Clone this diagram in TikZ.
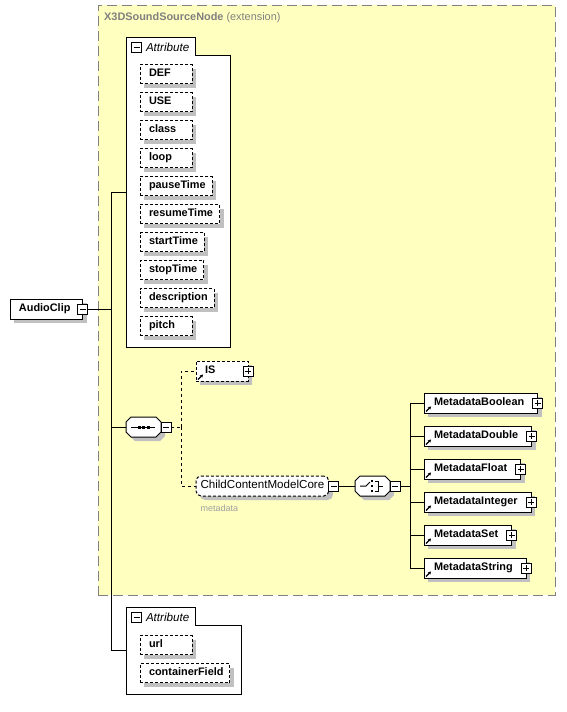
\documentclass[tikz,border=0pt]{standalone}
\usepackage{fontspec}
\setmainfont{Liberation Sans}
\usetikzlibrary{positioning, arrows.meta}

\definecolor{extfill}{RGB}{255,255,192}
\definecolor{extline}{RGB}{128,128,128}
\definecolor{shadegray}{RGB}{192,192,192}
\definecolor{notegray}{RGB}{160,160,160}

\pgfdeclarelayer{bg}
\pgfdeclarelayer{shade}
\pgfsetlayers{bg,shade,main}

\tikzstyle{elem}=[draw, fill=white, outer sep=0pt, minimum height=20pt, inner xsep=6.5pt, inner ysep=0pt, text height=8pt, text depth=2.5pt, font=\fontsize{10.9}{12}\selectfont\bfseries, anchor=west]
\tikzstyle{attr}=[elem, dash pattern=on 3pt off 2pt, minimum height=19pt, execute at begin node={\hspace*{2.5pt}}]
\tikzstyle{narrow}=[text width=39pt]
\tikzstyle{eref}=[elem, inner xsep=10pt, execute at end node={\hspace*{3.5pt}}]
\tikzstyle{sgn}=[draw, fill=white, outer sep=0pt, minimum size=10pt, inner sep=0pt]
\tikzstyle{colbox}=[sgn, path picture={\draw ([xshift=2pt]path picture bounding box.west) -- ([xshift=-2pt]path picture bounding box.east);}]
\tikzstyle{expbox}=[sgn, path picture={\draw ([xshift=2pt]path picture bounding box.west) -- ([xshift=-2pt]path picture bounding box.east); \draw ([yshift=2pt]path picture bounding box.south) -- ([yshift=-2pt]path picture bounding box.north);}]
\tikzstyle{octo}=[outer sep=0pt, minimum width=35pt, minimum height=20pt, inner sep=0pt]
\tikzstyle{grptab}=[font=\fontsize{11.6}{12}\selectfont\itshape, inner sep=0pt, anchor=west]
\tikzstyle{optlink}=[dash pattern=on 3pt off 3pt]
\tikzstyle{refarrow}=[line width=1.2pt, -{Stealth[length=3pt, width=3.5pt]}]

% octagon outline of a compositor node, offset by #2 for its shadow
\tikzset{octline/.style 2 args={insert path={([shift={(#2,-#2)}]#1.north west) ++(5,0) -- ++(25,0) -- ++(5,5) -- ++(0,10) -- ++(-5,5) -- ++(-25,0) -- ++(-5,-5) -- ++(0,-10) -- cycle}}}

\begin{document}
\begin{tikzpicture}[x=1pt, y=-1pt, line width=1pt, node distance=13pt]
    \useasboundingbox (0,0) rectangle (566,712);

    % attribute group inside the extension
    \node[inner sep=0pt, outer sep=0pt, minimum width=104pt, minimum height=310pt, anchor=north west] (grpA) at (126,37) {};
    \node[colbox] (grpAm) at (136.5,47) {};
    \node[grptab, right=4pt of grpAm] (grpAt) {Attribute};

    \node[attr, narrow] (DEF) at (140,74) {DEF};
    \node[attr, narrow, below=9pt of DEF.south west, anchor=north west] (USE) {USE};
    \node[attr, narrow, below=9pt of USE.south west, anchor=north west] (class) {class};
    \node[attr, narrow, below=9pt of class.south west, anchor=north west] (loop) {loop};
    \node[attr, below=9pt of loop.south west, anchor=north west] (pauseTime) {pauseTime};
    \node[attr, below=9pt of pauseTime.south west, anchor=north west] (resumeTime) {resumeTime};
    \node[attr, below=9pt of resumeTime.south west, anchor=north west] (startTime) {startTime};
    \node[attr, below=9pt of startTime.south west, anchor=north west] (stopTime) {stopTime};
    \node[attr, below=9pt of stopTime.south west, anchor=north west] (description) {description};
    \node[attr, narrow, below=9pt of description.south west, anchor=north west] (pitch) {pitch};

    % attribute group of AudioClip itself
    \node[inner sep=0pt, outer sep=0pt, minimum width=115pt, minimum height=87pt, anchor=north west] (grpB) at (126,607) {};
    \node[colbox] (grpBm) at (136.5,617) {};
    \node[grptab, right=4pt of grpBm] (grpBt) {Attribute};

    \node[attr, narrow] (url) at (140,645) {url};
    \node[attr, below=9pt of url.south west, anchor=north west] (containerField) {containerField};

    % root element
    \node[elem, inner xsep=9pt, execute at end node={\hspace*{3.5pt}}] (ac) at (10,309) {AudioClip};
    \node[colbox] (acm) at (ac.east) {};

    % sequence
    \node[octo] (seq) at (143.5,427) {};
    \draw[fill=white] [octline={seq}{0pt}];
    \node[colbox, right=0pt of seq] (seqm) {};

    \node[attr, narrow, minimum height=20pt] (IS) at (196,371) {IS};
    \node[expbox] (ISx) at (IS.east) {};

    \node[elem, dash pattern=on 3pt off 2pt, rounded corners=5pt, inner xsep=4.5pt, font=\fontsize{11.6}{12}\selectfont] (ccmc) at (196,486) {ChildContentModelCore};
    \node[colbox, right=0pt of ccmc] (ccmcm) {};
    \node[anchor=west, inner sep=0pt, text=notegray, font=\fontsize{9}{10}\selectfont] (ccmcnote) at (200,508) {metadata};

    % choice
    \node[octo] (cho) at (372.5,486) {};
    \draw[fill=white] [octline={cho}{0pt}];
    \node[colbox, right=0pt of cho] (chom) {};

    \node[eref] (mbool) at (424,403) {MetadataBoolean};
    \node[eref, below=of mbool.south west, anchor=north west] (mdbl) {MetadataDouble};
    \node[eref, below=of mdbl.south west, anchor=north west] (mflt) {MetadataFloat};
    \node[eref, below=of mflt.south west, anchor=north west] (mint) {MetadataInteger};
    \node[eref, below=of mint.south west, anchor=north west] (mset) {MetadataSet};
    \node[eref, below=of mset.south west, anchor=north west] (mstr) {MetadataString};
    \foreach \m in {mbool,mdbl,mflt,mint,mset,mstr}
        \node[expbox] (\m x) at (\m.east) {};

    % reference arrows
    \foreach \m in {IS,mbool,mdbl,mflt,mint,mset,mstr}
        \draw[refarrow] ([shift={(2pt,1.5pt)}]\m.south west) -- ++(5pt,5pt);

    % compositor icons
    \draw ([xshift=-12.5pt]seq.center) -- ([xshift=11.5pt]seq.center);
    \foreach \d in {-4.5,0,4.5}
        \fill ([xshift=\d pt]seq.center) +(-1.5pt,-1.5pt) rectangle +(1.5pt,1.5pt);
    \draw ([xshift=-12.5pt]cho.center) -- ++(6pt,0pt) -- ++(4pt,4pt);
    \foreach \d in {-5,0,5}
        \fill ([shift={(-0.5pt,\d pt)}]cho.center) +(-1.3pt,-1.3pt) rectangle +(1.3pt,1.3pt);
    \draw ([shift={(2.5pt,5pt)}]cho.center) -- ++(3pt,0pt) -- ++(0pt,-10pt) -- ++(-3pt,0pt);
    \draw ([xshift=5.5pt]cho.center) -- ++(5pt,0pt);

    % connectors
    \coordinate (trunk) at (111,309);
    \draw (acm.east) -- (trunk);
    \draw (trunk) |- (grpA.west);
    \draw (trunk) |- (grpB.west);
    \draw (trunk) |- (seq.west);

    \coordinate (seqj) at (181,427);
    \draw[optlink] (seqm.east) -- (seqj);
    \draw[optlink] (seqj) |- (IS.west);
    \draw[optlink] (seqj) |- (ccmc.west);

    \draw (ccmcm.east) -- (cho.west);
    \coordinate (choj) at (410,486);
    \draw (chom.east) -- (choj);
    \foreach \m in {mbool,mdbl,mflt,mint,mset,mstr}
        \draw (choj) |- (\m.west);

    % shadows
    \begin{pgfonlayer}{shade}
        \foreach \n in {DEF,USE,class,loop,pauseTime,resumeTime,startTime,stopTime,description,pitch,url,containerField,ac,IS,mbool,mdbl,mflt,mint,mset,mstr}
            \fill[shadegray] ([shift={(4pt,-4pt)}]\n.north west) rectangle ([shift={(4pt,-4pt)}]\n.south east);
        \fill[shadegray, rounded corners=5pt] ([shift={(4pt,-4pt)}]ccmc.north west) rectangle ([shift={(4pt,-4pt)}]ccmc.south east);
        \fill[shadegray] [octline={seq}{4pt}];
        \fill[shadegray] [octline={cho}{4pt}];
    \end{pgfonlayer}

    % extension frame and group outlines
    \begin{pgfonlayer}{bg}
        \node[draw=extline, fill=extfill, dash pattern=on 10pt off 5pt, inner sep=0pt, minimum width=457pt, minimum height=590pt, anchor=north west] (ext) at (98,5) {};
        \node[anchor=west, inner sep=0pt, text=extline, font=\fontsize{10.9}{12}\selectfont] (title) at (104,18) {\textbf{X3DSoundSourceNode} (extension)};
        \draw[fill=white] (grpA.north west) -- ++(69,0) -- ++(0,18) -| (grpA.south east) -- (grpA.south west) -- cycle;
        \draw[fill=white] (grpB.north west) -- ++(69,0) -- ++(0,18) -| (grpB.south east) -- (grpB.south west) -- cycle;
    \end{pgfonlayer}
\end{tikzpicture}
\end{document}
